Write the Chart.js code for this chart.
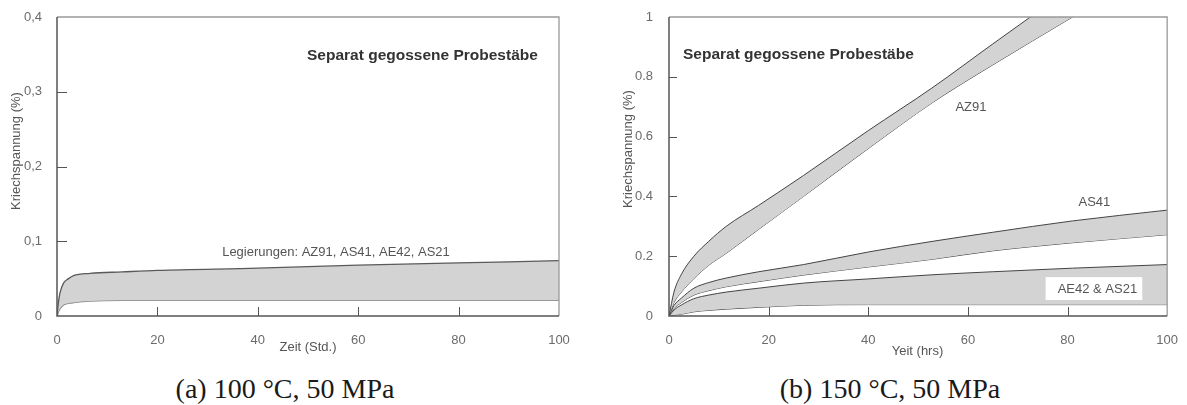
<!DOCTYPE html>
<html>
<head>
<meta charset="utf-8">
<title>Kriechspannung</title>
<script src="https://cdn.jsdelivr.net/npm/chart.js@4.4.1/dist/chart.umd.min.js"></script>
<style>
  body { margin: 0; background: #fff; width: 1187px; height: 405px; position: relative; overflow: hidden; }
  canvas { position: absolute; top: 0; }
  #chartA { left: 0; }
  #chartB { left: 590px; }
  .caption { position: absolute; top: 374px; width: 300px; text-align: center;
             font-family: "Liberation Serif", serif; font-size: 28px; line-height: 30px; color: #1a1a1a; }
</style>
</head>
<body>
<canvas id="chartA" width="590" height="370"></canvas>
<canvas id="chartB" width="597" height="370"></canvas>
<div class="caption" style="left:135px">(a) 100 °C, 50 MPa</div>
<div class="caption" style="left:740px">(b) 150 °C, 50 MPa</div>

<script>
// x axis (hours) shared by both plots
const xTicks = [0, 20, 40, 60, 80, 100];
const xLabels = ['0', '20', '40', '60', '80', '100'];

// (a) 100 °C - one band for all alloys
const hoursA = [0, 0.3, 0.6, 1.3, 2.3, 3.3, 6.6, 13, 20, 40, 60, 80, 100];
const upperA = [0, 0.019, 0.031, 0.044, 0.050, 0.054, 0.057, 0.059, 0.061, 0.064, 0.068, 0.071, 0.074];
const lowerA = [0, 0.006, 0.010, 0.015, 0.017, 0.018, 0.020, 0.021, 0.021, 0.021, 0.021, 0.021, 0.021];
const yTicksA = [0, 0.1, 0.2, 0.3, 0.4];
const yLabelsA = ['0', '0,1', '0,2', '0,3', '0,4'];

// (b) 150 °C - three bands
const hoursB = [0, 1, 2.5, 5, 8, 11.5, 18, 27, 40, 53, 65, 81, 100];
const az91Upper = [0, 0.08, 0.14, 0.20, 0.25, 0.30, 0.37, 0.47, 0.62, 0.765, 0.91, 1.10, 1.32];
const az91Lower = [0, 0.045, 0.08, 0.125, 0.17, 0.21, 0.29, 0.40, 0.56, 0.715, 0.84, 1.0, 1.19];
const as41Upper = [0, 0.035, 0.06, 0.093, 0.112, 0.127, 0.148, 0.172, 0.214, 0.25, 0.28, 0.318, 0.354];
const as41Lower = [0, 0.025, 0.045, 0.07, 0.085, 0.098, 0.115, 0.137, 0.164, 0.19, 0.218, 0.245, 0.272];
const ae42Upper = [0, 0.02, 0.037, 0.058, 0.07, 0.08, 0.093, 0.11, 0.124, 0.138, 0.148, 0.16, 0.172];
const ae42Lower = [0, 0.003, 0.006, 0.014, 0.019, 0.023, 0.029, 0.036, 0.038, 0.038, 0.038, 0.038, 0.038];
const yTicksB = [0, 0.2, 0.4, 0.6, 0.8, 1];
const yLabelsB = ['0', '0.2', '0.4', '0.6', '0.8', '1'];

const bandColor = '#d3d3d3';
const sans = '"Liberation Sans", Arial, sans-serif';
const tickFont = { family: sans, size: 13 };

function points(xs, ys) {
  return xs.map((x, i) => ({ x: x, y: ys[i] }));
}

// one edge of a band; the upper edge fills down to the next dataset
function edge(xs, ys, color, width, fillNext) {
  return {
    data: points(xs, ys),
    borderColor: color,
    borderWidth: width,
    backgroundColor: bandColor,
    fill: fillNext ? '+1' : false,
    pointRadius: 0,
    cubicInterpolationMode: 'monotone'
  };
}

// frame, inward tick marks, axis titles and notes
const decor = {
  id: 'decor',
  afterDatasetsDraw(chart, args, o) {
    const { ctx, chartArea: a, scales: { x, y } } = chart;
    ctx.save();

    ctx.lineWidth = 1.3;
    ctx.strokeStyle = '#999';
    ctx.beginPath();
    ctx.moveTo(a.left, a.top);
    ctx.lineTo(a.right, a.top);
    ctx.lineTo(a.right, a.bottom);
    ctx.stroke();
    ctx.lineWidth = 1.5;
    ctx.strokeStyle = '#555';
    ctx.beginPath();
    ctx.moveTo(a.left, a.top);
    ctx.lineTo(a.left, a.bottom);
    ctx.lineTo(a.right, a.bottom);
    ctx.stroke();

    ctx.lineWidth = 1;
    ctx.beginPath();
    o.xMarks.forEach(v => {
      const px = Math.round(x.getPixelForValue(v)) + 0.5;
      ctx.moveTo(px, a.bottom);
      ctx.lineTo(px, a.bottom - o.xMarkLen);
    });
    o.yMarks.forEach(v => {
      const py = Math.round(y.getPixelForValue(v)) + 0.5;
      ctx.moveTo(a.left, py);
      ctx.lineTo(a.left + o.yMarkLen, py);
    });
    ctx.stroke();

    ctx.fillStyle = '#555';
    ctx.font = '13px ' + sans;
    ctx.textAlign = 'center';
    ctx.textBaseline = 'middle';
    ctx.fillText(o.xTitle.text, o.xTitle.px, o.xTitle.py);
    ctx.save();
    ctx.translate(o.yTitle.px, o.yTitle.py);
    ctx.rotate(-Math.PI / 2);
    ctx.fillText(o.yTitle.text, 0, 0);
    ctx.restore();

    o.notes.forEach(n => {
      if (n.box) {
        const l = x.getPixelForValue(n.box[0]), r = x.getPixelForValue(n.box[1]);
        const t = y.getPixelForValue(n.box[3]), b = y.getPixelForValue(n.box[2]);
        ctx.fillStyle = '#fff';
        ctx.fillRect(l, t, r - l, b - t);
      }
      ctx.font = (n.bold ? 'bold ' : '') + (n.size || 13) + 'px ' + sans;
      ctx.fillStyle = n.bold ? '#333' : '#555';
      ctx.textAlign = n.align || 'left';
      ctx.fillText(n.text, x.getPixelForValue(n.x), y.getPixelForValue(n.y));
    });
    ctx.restore();
  }
};

function axes(yMax, yTicks, yLabels, yWidth, yPad) {
  return {
    x: {
      type: 'linear', min: 0, max: 100,
      afterBuildTicks: s => { s.ticks = xTicks.map(v => ({ value: v })); },
      afterFit: s => { s.height = 54; },
      grid: { display: false },
      border: { display: false },
      ticks: { padding: 9, color: '#6b6b6b', font: tickFont, maxRotation: 0, autoSkip: false,
               callback: (v, i) => xLabels[i] }
    },
    y: {
      type: 'linear', min: 0, max: yMax,
      afterBuildTicks: s => { s.ticks = yTicks.map(v => ({ value: v })); },
      afterFit: s => { s.width = yWidth; },
      grid: { display: false },
      border: { display: false },
      ticks: { padding: yPad, color: '#6b6b6b', font: tickFont, autoSkip: false,
               callback: (v, i) => yLabels[i] }
    }
  };
}

new Chart(document.getElementById('chartA'), {
  type: 'line',
  data: {
    datasets: [
      edge(hoursA, upperA, '#5a5a5a', 1.3, true),
      edge(hoursA, lowerA, '#858585', 1.6, false)
    ]
  },
  plugins: [decor],
  options: {
    responsive: false,
    animation: false,
    layout: { padding: { left: 0, top: 17, right: 31, bottom: 0 } },
    scales: axes(0.4, yTicksA, yLabelsA, 57, 7),
    plugins: {
      legend: { display: false },
      tooltip: { enabled: false },
      decor: {
        xMarks: [20, 40, 60, 80], xMarkLen: 9,
        yMarks: [0.1, 0.2, 0.3], yMarkLen: 10,
        xTitle: { text: 'Zeit (Std.)', px: 308, py: 347 },
        yTitle: { text: 'Kriechspannung (%)', px: 16.5, py: 151 },
        notes: [
          { text: 'Separat gegossene Probestäbe', x: 49.8, y: 0.348, bold: true, size: 15.5 },
          { text: 'Legierungen: AZ91, AS41, AE42, AS21', x: 32.9, y: 0.0853 }
        ]
      }
    }
  }
});

new Chart(document.getElementById('chartB'), {
  type: 'line',
  data: {
    datasets: [
      edge(hoursB, az91Upper, '#444', 1, true),
      edge(hoursB, az91Lower, '#444', 1, false),
      edge(hoursB, as41Upper, '#444', 1, true),
      edge(hoursB, as41Lower, '#444', 1, false),
      edge(hoursB, ae42Upper, '#444', 1, true),
      edge(hoursB, ae42Lower, '#444', 1, false)
    ]
  },
  plugins: [decor],
  options: {
    responsive: false,
    animation: false,
    layout: { padding: { left: 0, top: 17, right: 17, bottom: 0 } },
    scales: axes(1, yTicksB, yLabelsB, 79, 8),
    plugins: {
      legend: { display: false },
      tooltip: { enabled: false },
      decor: {
        xMarks: [20, 40, 60, 80], xMarkLen: 9,
        yMarks: [0.2, 0.4, 0.6, 0.8], yMarkLen: 8,
        xTitle: { text: 'Yeit (hrs)', px: 327.5, py: 351 },
        yTitle: { text: 'Kriechspannung (%)', px: 38, py: 149 },
        notes: [
          { text: 'Separat gegossene Probestäbe', x: 2.8, y: 0.873, bold: true, size: 15.5 },
          { text: 'AZ91', x: 57.5, y: 0.697 },
          { text: 'AS41', x: 82.2, y: 0.381 },
          { text: 'AE42 & AS21', x: 86, y: 0.090, align: 'center', box: [75.6, 95, 0.0535, 0.130] }
        ]
      }
    }
  }
});
</script>
</body>
</html>
